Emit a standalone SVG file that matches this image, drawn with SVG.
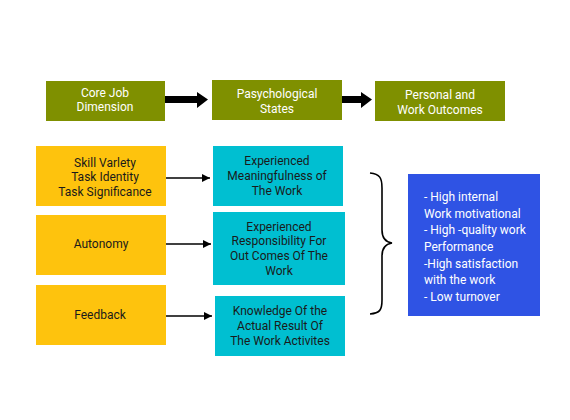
<svg xmlns="http://www.w3.org/2000/svg" width="570" height="420" viewBox="0 0 570 420">
<style>
text{font-family:Roboto,"Liberation Sans",sans-serif;font-size:12px}
.g{fill:#7f9000}.y{fill:#fec30d}.c{fill:#00bfd1}.b{fill:#2f53e4}
.w{fill:#fff;text-anchor:middle}.d{fill:#1a1a1a;text-anchor:middle}.wl{fill:#fff}
.thin{stroke:#000;stroke-width:1.6;fill:none}
</style>
<defs>
<marker id="ah" markerWidth="10" markerHeight="10" refX="9" refY="5" orient="auto" markerUnits="userSpaceOnUse">
<path d="M1,1 L9,5 L1,9 Z" fill="#000"/>
</marker>
</defs>
<rect width="570" height="420" fill="#fff"/>
<g id="n-core"><rect class="g" x="46" y="81" width="119" height="40"/><text class="w" x="105" y="97">Core Job</text><text class="w" x="105" y="111">Dimension</text></g>
<g id="n-psych"><rect class="g" x="212" y="80" width="130" height="40"/><text class="w" x="277" y="98">Pasychological</text><text class="w" x="277" y="113">States</text></g>
<g id="n-out"><rect class="g" x="375" y="81" width="130" height="40"/><text class="w" x="440" y="99">Personal and</text><text class="w" x="440" y="114">Work Outcomes</text></g>
<g id="n-skill"><rect class="y" x="36" y="146" width="130" height="60"/><text class="d" x="105" y="167">Skill Varlety</text><text class="d" x="105" y="181">Task Identity</text><text class="d" x="105" y="196">Task Significance</text></g>
<g id="n-auto"><rect class="y" x="36" y="215" width="130" height="60"/><text class="d" x="101" y="248">Autonomy</text></g>
<g id="n-feed"><rect class="y" x="36" y="285" width="130" height="60"/><text class="d" x="100" y="319">Feedback</text></g>
<g id="n-mean"><rect class="c" x="213" y="146" width="130" height="60"/><text class="d" x="277" y="165">Experienced</text><text class="d" x="277" y="180">Meaningfulness of</text><text class="d" x="277" y="195">The Work</text></g>
<g id="n-resp"><rect class="c" x="213" y="212" width="132" height="73"/><text class="d" x="279" y="231">Experienced</text><text class="d" x="279" y="245">Responsibility For</text><text class="d" x="279" y="260">Out Comes Of The</text><text class="d" x="279" y="275">Work</text></g>
<g id="n-know"><rect class="c" x="215" y="296" width="130" height="60"/><text class="d" x="280" y="315">Knowledge Of the</text><text class="d" x="280" y="330">Actual Result Of</text><text class="d" x="280" y="345">The Work Activites</text></g>
<g id="n-result"><rect class="b" x="408" y="174" width="132" height="142"/>
<text class="wl" x="424" y="201">- High internal</text>
<text class="wl" x="424" y="218">Work motivational</text>
<text class="wl" x="424" y="234">- High -quality work</text>
<text class="wl" x="424" y="251">Performance</text>
<text class="wl" x="424" y="268">-High satisfaction</text>
<text class="wl" x="424" y="284">with the work</text>
<text class="wl" x="424" y="301">- Low turnover</text>
</g>
<g id="connectors">
<path d="M165,96 H197 V92 L208,99.5 L197,108 V103 H165 Z" fill="#000"/>
<path d="M342,96 H361 V92 L372,99.5 L361,108 V103 H342 Z" fill="#000"/>
<line class="thin" x1="166" y1="178" x2="210" y2="178" marker-end="url(#ah)"/>
<line class="thin" x1="166" y1="244" x2="211" y2="244" marker-end="url(#ah)"/>
<line class="thin" x1="166" y1="316" x2="212" y2="316" marker-end="url(#ah)"/>
<path class="thin" d="M370,173 C380,174 382,178 382,188 V230 C382,238 385,242 392,243 C385,244 382,248 382,256 V300 C382,310 380,313 370,314"/>
</g>
</svg>
